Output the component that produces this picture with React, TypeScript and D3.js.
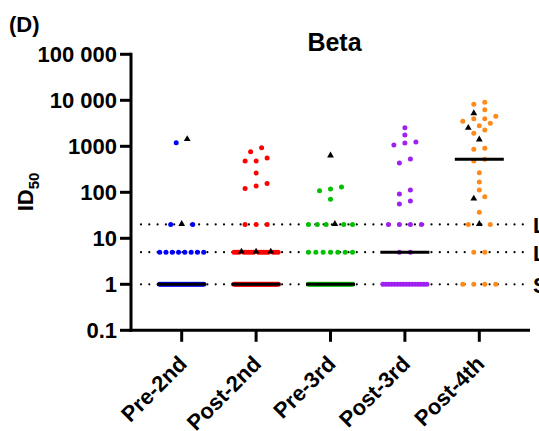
import React from 'react';
import * as d3 from 'd3';

const categories = ['Pre-2nd', 'Post-2nd', 'Pre-3rd', 'Post-3rd', 'Post-4th'];
const groupColors = ['#0000ff', '#ff0000', '#00c000', '#a020f0', '#ff8a1c'];

const pre2ndCircles = [1200, 20, 20, 5, 5, 5, 5, 5, 5, 5, 5,
  1, 1, 1, 1, 1, 1, 1, 1, 1, 1, 1, 1, 1, 1, 1, 1, 1, 1, 1, 1, 1, 1, 1, 1, 1, 1, 1, 1, 1, 1];
const pre2ndTriangles = [1400, 20];

const post2ndCircles = [930, 760, 560, 480, 478, 262, 155, 137, 121, 20, 20, 20,
  5, 5, 5, 5, 5, 5, 5, 5, 5, 5, 5, 5, 5, 5, 5, 5,
  1, 1, 1, 1, 1, 1, 1, 1, 1, 1, 1, 1, 1, 1, 1, 1, 1, 1, 1, 1,
  1, 1, 1, 1, 1, 1, 1, 1, 1, 1, 1, 1, 1, 1, 1, 1, 1, 1, 1, 1];
const post2ndTriangles = [5, 5, 5];

const pre3rdCircles = [130, 118, 108, 71, 20, 20, 20, 20, 20, 5, 5, 5, 5, 5, 5, 5,
  1, 1, 1, 1, 1, 1, 1, 1, 1, 1, 1, 1, 1, 1, 1, 1, 1, 1, 1, 1, 1, 1, 1, 1, 1, 1, 1, 1, 1, 1];
const pre3rdTriangles = [617, 20];

const post3rdCircles = [2540, 1760, 1240, 1180, 1070, 530, 433, 112, 92, 65, 56, 20, 20, 20, 20, 5, 5,
  1, 1, 1, 1, 1, 1, 1, 1, 1, 1, 1, 1, 1, 1, 1, 1];
const post3rdTriangles: number[] = [];

const post4thCircles = [9050, 8190, 6250, 4490, 3980, 3980, 3490, 3160, 2800, 2260, 1920, 905, 860,
  521, 479, 267, 168, 112, 80, 37, 20, 20, 5, 5, 1, 1, 1, 1];
const post4thTriangles = [5110, 2460, 1370, 71, 20];

const groupCircles = [pre2ndCircles, post2ndCircles, pre3rdCircles, post3rdCircles, post4thCircles];
const groupTriangles = [pre2ndTriangles, post2ndTriangles, pre3rdTriangles, post3rdTriangles, post4thTriangles];

const cutoffValues = [1, 5, 20];
const refLines = [
  { value: 20, label: 'LOQ' },
  { value: 5, label: 'LOD' },
  { value: 1, label: 'SN' },
];
const yTickValues = [0.1, 1, 10, 100, 1000, 10000, 100000];
const yTickLabels = ['0.1', '1', '10', '100', '1000', '10 000', '100 000'];

const W = 539;
const H = 431;
const FONT = '"Liberation Sans", Arial, Helvetica, sans-serif';

type Mark = { x: number; y: number; tri: boolean; color: string };

export default function App() {
  const y = d3.scaleLog().domain([0.1, 100000]).range([330.3, 54.3]);
  const x = d3.scaleBand().domain(categories).range([144.5, 516.5]);
  const axisX = 131;
  const axisY = 330.3;

  const marks: Mark[] = [];
  const medians: { cx: number; y: number }[] = [];

  categories.forEach((cat, gi) => {
    const cx = (x(cat) as number) + x.bandwidth() / 2;
    const circles = groupCircles[gi];
    const tris = groupTriangles[gi];
    const color = groupColors[gi];
    // rows of tied values at the assay cut-offs
    cutoffValues.forEach((v) => {
      const c = circles.filter((d) => d === v).length;
      const m = tris.filter((d) => d === v).length;
      const n = c + m;
      if (n === 0) return;
      const step = n > 1 ? Math.min(11, 44 / (n - 1)) : 0;
      const triIdx = new Set<number>();
      for (let k = 0; k < m; k++) triIdx.add(Math.floor(((k + 0.5) * n) / m));
      for (let i = 0; i < n; i++) {
        marks.push({ x: cx + (i - (n - 1) / 2) * step, y: y(v), tri: triIdx.has(i), color });
      }
    });
    // scatter: bin the remaining points into rows and centre each row
    const others = [
      ...circles.filter((d) => !cutoffValues.includes(d)).map((v) => ({ v, tri: false })),
      ...tris.filter((d) => !cutoffValues.includes(d)).map((v) => ({ v, tri: true })),
    ].sort((a, b) => b.v - a.v);
    const rows: { v: number; tri: boolean }[][] = [];
    others.forEach((p) => {
      const last = rows[rows.length - 1];
      if (last && y(p.v) - y(last[0].v) <= 5.5) last.push(p);
      else rows.push([p]);
    });
    rows.forEach((row) => {
      const sorted = [...row].sort((a, b) => a.v - b.v);
      const n = sorted.length;
      sorted.forEach((p, i) => {
        marks.push({ x: cx + (i - (n - 1) / 2) * 11, y: y(p.v), tri: p.tri, color });
      });
    });
    const med = d3.median([...circles, ...tris]) as number;
    medians.push({ cx, y: y(med) });
  });

  const triPath = d3.symbol().type(d3.symbolTriangle).size(20)() as string;

  return (
    <svg width={W} height={H} style={{ position: 'absolute', left: 0, top: 0, background: '#fff' }}
      fontFamily={FONT} fontWeight="bold">
      <text x={9} y={32} fontSize={22}>(D)</text>
      <text x={334.5} y={51} fontSize={25} textAnchor="middle">Beta</text>
      <text transform="translate(33,192) rotate(-90)" fontSize={22} textAnchor="middle">
        ID<tspan fontSize={15} dy={6}>50</tspan>
      </text>

      {refLines.map((r) => (
        <g key={r.label}>
          <line x1={141} x2={523} y1={y(r.value)} y2={y(r.value)} stroke="#000" strokeWidth={2.2}
            strokeLinecap="round" strokeDasharray="0 8.3" />
          <text x={533} y={y(r.value) + 8.5} fontSize={22}>{r.label}</text>
        </g>
      ))}

      {marks.filter((m) => !m.tri).map((m, i) => (
        <circle key={'c' + i} cx={m.x} cy={m.y} r={2.5} fill={m.color} />
      ))}
      {marks.filter((m) => m.tri).map((m, i) => (
        <path key={'t' + i} d={triPath} transform={`translate(${m.x},${m.y - 0.5})`} fill="#000" />
      ))}
      {medians.map((m, i) => (
        <line key={'m' + i} x1={m.cx - 24.5} x2={m.cx + 24.5} y1={m.y} y2={m.y} stroke="#000" strokeWidth={3} />
      ))}

      <line x1={axisX} x2={axisX} y1={y(100000) - 1.5} y2={axisY + 1.5} stroke="#000" strokeWidth={3} />
      <line x1={axisX - 1.5} x2={530} y1={axisY} y2={axisY} stroke="#000" strokeWidth={3} />
      {yTickValues.map((v, i) => (
        <g key={'yt' + i}>
          <line x1={axisX - 11} x2={axisX} y1={y(v)} y2={y(v)} stroke="#000" strokeWidth={3} />
          <text x={axisX - 14} y={y(v) + 8} fontSize={22} textAnchor="end">{yTickLabels[i]}</text>
        </g>
      ))}
      {categories.map((c) => {
        const cx = (x(c) as number) + x.bandwidth() / 2;
        return (
          <g key={'xt' + c}>
            <line x1={cx} x2={cx} y1={axisY} y2={axisY + 11.5} stroke="#000" strokeWidth={3} />
            <text transform={`translate(${cx + 6.5},${axisY + 35}) rotate(-45)`} fontSize={22} textAnchor="end">{c}</text>
          </g>
        );
      })}
    </svg>
  );
}
